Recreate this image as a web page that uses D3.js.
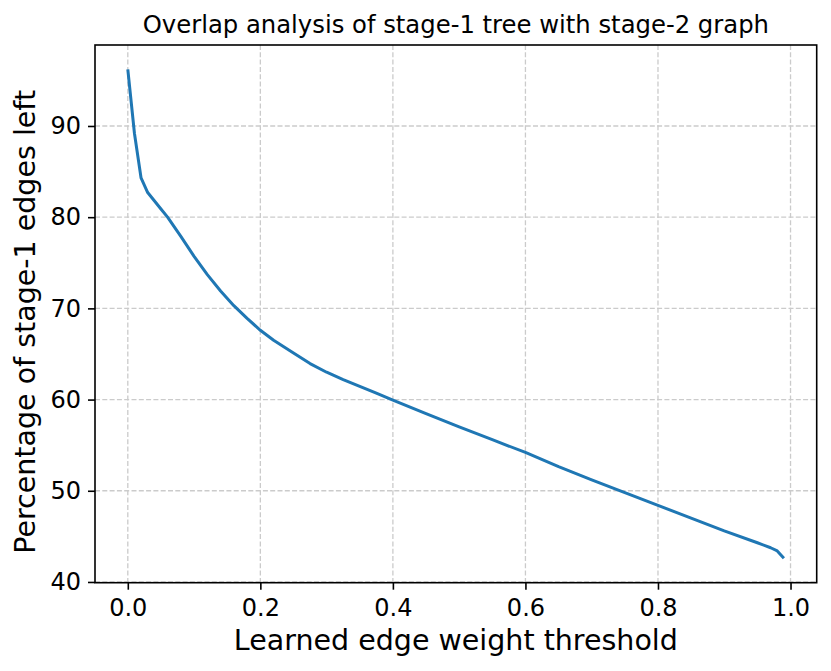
<!DOCTYPE html>
<html>
<head>
<meta charset="utf-8">
<script src="https://cdn.jsdelivr.net/npm/d3@7/dist/d3.min.js"></script>
<style>
  body { margin: 0; background: #fff; }
  svg { display: block; font-family: "DejaVu Sans", sans-serif; }
</style>
</head>
<body>
<div id="chart"></div>
<script>
// --- data ---
const thresholds = [0, 0.01, 0.02, 0.03, 0.04, 0.05, 0.06, 0.08, 0.10, 0.12, 0.14, 0.16, 0.18,
    0.20, 0.22, 0.25, 0.275, 0.30, 0.325, 0.35, 0.375, 0.40, 0.45, 0.50, 0.55, 0.60, 0.65,
    0.70, 0.75, 0.80, 0.85, 0.90, 0.95, 0.97, 0.98, 0.99];
const percentLeft = [96.2, 89.2, 84.3, 82.7, 81.8, 80.9, 80.0, 77.9, 75.7, 73.7, 71.9, 70.3, 68.9,
    67.6, 66.5, 65.1, 63.95, 63.0, 62.2, 61.45, 60.7, 59.95, 58.45, 57.0, 55.6, 54.2, 52.65,
    51.2, 49.8, 48.4, 47.0, 45.6, 44.3, 43.75, 43.4, 42.6];
const xTicks = [0, 0.2, 0.4, 0.6, 0.8, 1.0];
const yTicks = [40, 50, 60, 70, 80, 90];

const titleText = "Overlap analysis of stage-1 tree with stage-2 graph";
const xLabelText = "Learned edge weight threshold";
const yLabelText = "Percentage of stage-1 edges left";

// --- canvas ---
const width = 831, height = 671;
const margin = { top: 45, right: 14.3, bottom: 88.3, left: 95 };
const plotW = width - margin.left - margin.right;
const plotH = height - margin.top - margin.bottom;

const svg = d3.select("#chart").append("svg")
    .attr("width", width)
    .attr("height", height)
    .attr("viewBox", `0 0 ${width} ${height}`);

const g = svg.append("g").attr("transform", `translate(${margin.left},${margin.top})`);

// matplotlib style 5% margins around the data
function padded(values) {
    const lo = d3.min(values), hi = d3.max(values);
    const pad = (hi - lo) * 0.05;
    return [lo - pad, hi + pad];
}

const x = d3.scaleLinear().domain(padded(thresholds)).range([0, plotW]);
const y = d3.scaleLinear().domain(padded(percentLeft)).range([plotH, 0]);

// --- grid ---
const gridStyle = sel => sel
    .attr("stroke", "#cbcbcb")
    .attr("stroke-width", 1.3)
    .attr("stroke-dasharray", "5,2.3");

g.append("g").selectAll("line")
    .data(xTicks).enter().append("line")
    .attr("x1", d => x(d)).attr("x2", d => x(d))
    .attr("y1", 0).attr("y2", plotH)
    .call(gridStyle);

g.append("g").selectAll("line")
    .data(yTicks).enter().append("line")
    .attr("x1", 0).attr("x2", plotW)
    .attr("y1", d => y(d)).attr("y2", d => y(d))
    .call(gridStyle);

// --- line ---
const line = d3.line()
    .x((d, i) => x(thresholds[i]))
    .y(d => y(d));

g.append("path")
    .datum(percentLeft)
    .attr("fill", "none")
    .attr("stroke", "#1f77b4")
    .attr("stroke-width", 3)
    .attr("stroke-linejoin", "round")
    .attr("d", line);

// --- axes ---
const xAxis = g.append("g")
    .attr("transform", `translate(0,${plotH})`)
    .call(d3.axisBottom(x).tickValues(xTicks).tickFormat(d3.format(".1f")).tickSize(7).tickPadding(9));

const yAxis = g.append("g")
    .call(d3.axisLeft(y).tickValues(yTicks).tickFormat(d3.format("d")).tickSize(7).tickPadding(7));

[xAxis, yAxis].forEach(ax => {
    ax.select(".domain").remove();
    ax.selectAll(".tick line").attr("stroke", "#000").attr("stroke-width", 1.6);
    ax.selectAll(".tick text")
        .attr("fill", "#000")
        .style("font-family", "'DejaVu Sans', sans-serif")
        .style("font-size", "24px");
});

// spines
g.append("rect")
    .attr("width", plotW).attr("height", plotH)
    .attr("fill", "none")
    .attr("stroke", "#000")
    .attr("stroke-width", 1.6);

// --- text ---
svg.append("text")
    .attr("x", margin.left + plotW / 2)
    .attr("y", 33)
    .attr("text-anchor", "middle")
    .style("font-size", "24.3px")
    .text(titleText);

svg.append("text")
    .attr("x", margin.left + plotW / 2)
    .attr("y", 650)
    .attr("text-anchor", "middle")
    .style("font-size", "28.5px")
    .text(xLabelText);

svg.append("text")
    .attr("transform", `translate(35,${margin.top + plotH / 2 + 8}) rotate(-90)`)
    .attr("text-anchor", "middle")
    .style("font-size", "28.5px")
    .text(yLabelText);
</script>
</body>
</html>
